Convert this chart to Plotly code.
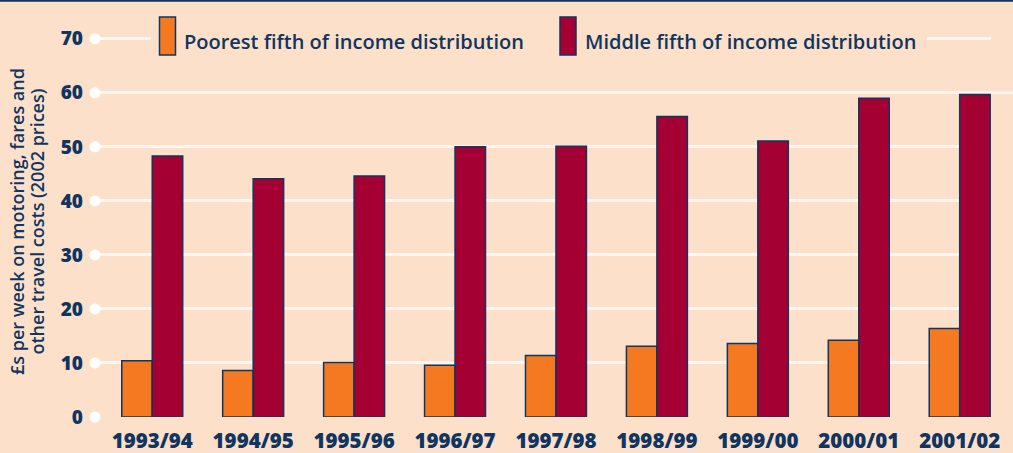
import plotly.graph_objects as go

# Weekly spending on motoring, fares and other travel costs (2002 prices)
years = ["1993/94", "1994/95", "1995/96", "1996/97", "1997/98",
         "1998/99", "1999/00", "2000/01", "2001/02"]
poorest = [10.4, 8.6, 10.1, 9.6, 11.4, 13.1, 13.6, 14.2, 16.4]
middle = [48.3, 44.1, 44.6, 50.0, 50.1, 55.6, 51.1, 59.0, 59.7]
y_ticks = [0, 10, 20, 30, 40, 50, 60, 70]

series_names = ["Poorest fifth of income distribution",
                "Middle fifth of income distribution"]
y_title_lines = ["£s per week on motoring, fares and",
                 "other travel costs (2002 prices)"]

BG = "#FDE0C9"
NAVY = "#0F3560"
ORANGE = "#F47920"
CRIMSON = "#A50034"
GRID = "#FFF7EE"
FONT = "Open Sans"

W, H = 1013, 453
ML, MR, MT, MB = 95, 22, 28, 36
PW, PH = W - ML - MR, H - MT - MB
X_RANGE = [-0.567, 8.31]


def px(xp):
    return (xp - ML) / PW


def py(yp):
    return (H - MB - yp) / PH


fig = go.Figure()
fig.add_trace(go.Bar(x=years, y=poorest, name=series_names[0],
                     marker=dict(color=ORANGE, line=dict(color=NAVY, width=1.5))))
fig.add_trace(go.Bar(x=years, y=middle, name=series_names[1],
                     marker=dict(color=CRIMSON, line=dict(color=NAVY, width=1.5))))

# white dots at the left end of each gridline
fig.add_trace(go.Scatter(x=[X_RANGE[0]] * len(y_ticks), y=y_ticks, mode="markers",
                         marker=dict(color="white", size=11), cliponaxis=False,
                         hoverinfo="skip", showlegend=False, xaxis="x2"))

shapes = [
    # navy rule along the top edge
    dict(type="line", xref="paper", yref="paper", x0=px(0), x1=px(W),
         y0=py(0.5), y1=py(0.5), line=dict(color=NAVY, width=2.5)),
    # legend panel hiding the 70 gridline
    dict(type="rect", xref="paper", yref="paper", x0=px(151), x1=px(927),
         y0=py(46), y1=py(30), fillcolor=BG, line=dict(width=0), layer="above"),
    # extension of the 60 gridline to the right edge
    dict(type="line", xref="paper", yref="y", x0=1, x1=px(W), y0=60, y1=60,
         line=dict(color=GRID, width=2.5)),
    # legend swatches
    dict(type="rect", xref="paper", yref="paper", x0=px(159.5), x1=px(175.5),
         y0=py(55), y1=py(17), fillcolor=ORANGE, line=dict(color=NAVY, width=1.5),
         layer="above"),
    dict(type="rect", xref="paper", yref="paper", x0=px(560), x1=px(576),
         y0=py(55), y1=py(17), fillcolor=CRIMSON, line=dict(color=NAVY, width=1.5),
         layer="above"),
]

legend_font = dict(family=FONT, size=20, color=NAVY, weight=600)
title_font = dict(family=FONT, size=18, color=NAVY, weight=600)
annotations = [
    dict(text=series_names[0], xref="paper", yref="paper", x=px(182), y=py(41),
         xanchor="left", yanchor="middle", showarrow=False, font=legend_font),
    dict(text=series_names[1], xref="paper", yref="paper", x=px(583), y=py(41),
         xanchor="left", yanchor="middle", showarrow=False, font=legend_font),
    dict(text=y_title_lines[0], xref="paper", yref="paper", x=px(17), y=py(222),
         textangle=-90, xanchor="center", yanchor="middle", showarrow=False,
         font=title_font),
    dict(text=y_title_lines[1], xref="paper", yref="paper", x=px(36.5), y=py(222),
         textangle=-90, xanchor="center", yanchor="middle", showarrow=False,
         font=title_font),
]

fig.update_layout(
    width=W, height=H,
    margin=dict(l=ML, r=MR, t=MT, b=MB, autoexpand=False),
    paper_bgcolor=BG, plot_bgcolor=BG,
    barmode="group", bargap=0.396, bargroupgap=0,
    showlegend=False,
    shapes=shapes, annotations=annotations,
    xaxis=dict(range=X_RANGE, showgrid=False, zeroline=False, showline=False,
               ticks="", ticklabelstandoff=9, automargin=False,
               tickfont=dict(family=FONT, size=20.5, color=NAVY, weight=800)),
    xaxis2=dict(range=X_RANGE, overlaying="x", visible=False),
    yaxis=dict(range=[0, 72], tickvals=y_ticks, showgrid=True, gridcolor=GRID,
               gridwidth=2.5, zeroline=False, showline=False, ticks="",
               ticklabelstandoff=11, automargin=False,
               tickfont=dict(family=FONT, size=19, color=NAVY, weight=800)),
)

fig.write_html("out.html")
